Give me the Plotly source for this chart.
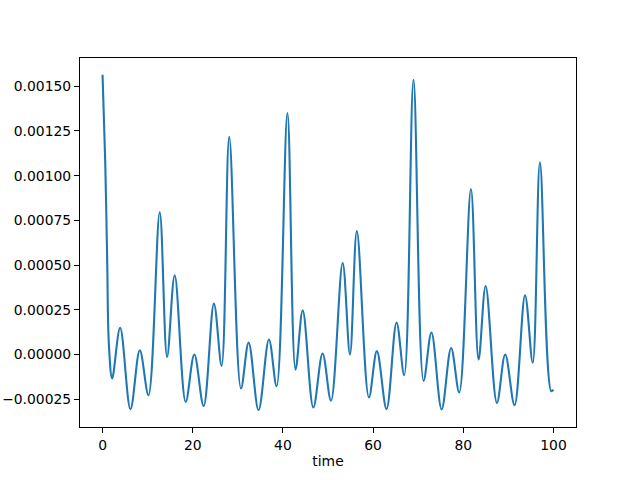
import plotly.graph_objects as go

# Time stamps of points (extrema and a few shoulder points)
time = [0, 0.59, 1.03, 1.4, 2.14, 3.9, 6.19, 8.26, 10.18, 12.68, 14.31, 16.0, 18.44,
        20.35, 22.42, 24.7, 26.4, 28.1, 30.7, 32.4, 34.6, 36.9, 38.6, 41.0, 42.8,
        44.4, 46.75, 48.8, 50.66, 53.25, 54.87, 56.4, 59.07, 60.84, 62.98, 65.2,
        66.9, 68.96, 71.2, 72.94, 75.2, 77.3, 79.1, 81.7, 83.4, 84.96, 87.46, 89.3,
        91.37, 93.7, 95.4, 97.0, 99.5, 100]
value = [0.001564, 0.00108, 0.000525, 0.00006, -0.000133, 0.000150, -0.000305,
         0.000024, -0.000227, 0.000796, -0.000013, 0.000443, -0.000264, 0.0,
         -0.000288, 0.000285, -0.000063, 0.001217, -0.000190, 0.000067, -0.000311,
         0.000084, -0.000177, 0.001350, -0.000084, 0.000247, -0.000296, 0.000006,
         -0.000258, 0.000512, 0.0, 0.000690, -0.000240, 0.000019, -0.000305,
         0.000179, -0.000115, 0.001536, -0.000147, 0.000123, -0.000307, 0.000037,
         -0.000212, 0.000926, -0.000028, 0.000383, -0.000270, 0.0, -0.000283,
         0.000331, -0.000045, 0.001075, -0.000205, -0.000196]

x_ticks = [0, 20, 40, 60, 80, 100]
y_ticks = [-0.00025, 0.0, 0.00025, 0.0005, 0.00075, 0.001, 0.00125, 0.0015]
y_tick_text = ["\u22120.00025", "0.00000", "0.00025", "0.00050", "0.00075",
               "0.00100", "0.00125", "0.00150"]

FONT = "DejaVu Sans"
FS = 13.9

fig = go.Figure(go.Scatter(
    x=time, y=value, mode="lines",
    line=dict(color="#1f77b4", width=2.1, shape="spline", smoothing=1.0),
    hoverinfo="skip",
))

axis_common = dict(
    showline=True, linecolor="black", linewidth=1, mirror=True,
    ticks="outside", ticklen=5, tickwidth=1, tickcolor="black",
    showgrid=False, zeroline=False, automargin=False,
    tickfont=dict(family=FONT, size=FS, color="black"),
)

fig.update_layout(
    width=640, height=480,
    margin=dict(l=80, r=64, t=58, b=53),
    paper_bgcolor="white", plot_bgcolor="white",
    showlegend=False,
    font=dict(family=FONT, size=FS, color="black"),
    xaxis=dict(range=[-5, 105], tickvals=x_ticks,
               ticktext=[str(v) for v in x_ticks],
               title=dict(text="time", font=dict(family=FONT, size=FS), standoff=4),
               **axis_common),
    yaxis=dict(range=[-0.000405, 0.001658], tickvals=y_ticks, ticktext=y_tick_text,
               **axis_common),
)

fig.write_html("out.html", config={"displayModeBar": False},
               post_script="document.body.style.margin='0';")
